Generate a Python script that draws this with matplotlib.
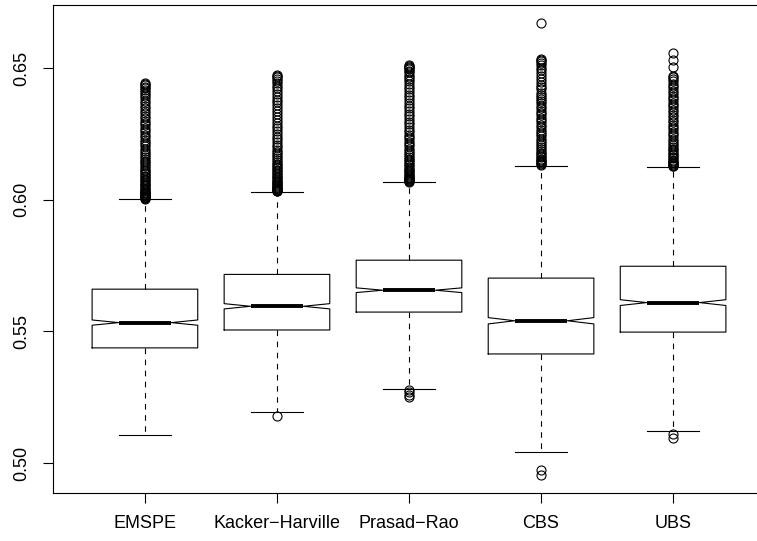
import matplotlib
matplotlib.use("Agg")
import matplotlib.pyplot as plt

plt.rcParams['font.family'] = ['Liberation Sans', 'DejaVu Sans']

labels = ["EMSPE", "Kacker\u2212Harville", "Prasad\u2212Rao", "CBS", "UBS"]

# five-number summaries
q1 = [0.5437, 0.5505, 0.5573, 0.5414, 0.5497]
med = [0.5533, 0.5595, 0.5656, 0.5540, 0.5609]
q3 = [0.5660, 0.5716, 0.5770, 0.5702, 0.5747]
whis_lo = [0.5107, 0.5195, 0.5282, 0.5043, 0.5120]
whis_hi = [0.6001, 0.6030, 0.6066, 0.6128, 0.6122]
notch_half = [0.0010, 0.0010, 0.0009, 0.0012, 0.0011]

# outlying values
out_emspe = [0.6003, 0.6005, 0.6007, 0.6009, 0.6011, 0.6013, 0.6015, 0.6018,
             0.6021, 0.6024, 0.6027, 0.6030, 0.6034, 0.6038, 0.6042, 0.6046,
             0.6050, 0.6055, 0.6060, 0.6064, 0.6069, 0.6074, 0.6080, 0.6085,
             0.6091, 0.6096, 0.6102, 0.6108, 0.6114, 0.6121, 0.6127, 0.6134,
             0.6141, 0.6148, 0.6155, 0.6163, 0.6170, 0.6178, 0.6186, 0.6194,
             0.6203, 0.6211, 0.6219, 0.6228, 0.6237, 0.6246, 0.6255, 0.6264,
             0.6273, 0.6282, 0.6291, 0.6300, 0.6310, 0.6319, 0.6328, 0.6338,
             0.6347, 0.6356, 0.6366, 0.6375, 0.6384, 0.6393, 0.6401, 0.6409,
             0.6416, 0.6423, 0.6429, 0.6434, 0.6438, 0.6441]
out_kh = [0.5180,
          0.6032, 0.6034, 0.6036, 0.6038, 0.6040, 0.6043, 0.6046, 0.6049,
          0.6052, 0.6055, 0.6059, 0.6063, 0.6067, 0.6071, 0.6076, 0.6081,
          0.6086, 0.6091, 0.6096, 0.6102, 0.6108, 0.6113, 0.6119, 0.6125,
          0.6131, 0.6137, 0.6143, 0.6150, 0.6157, 0.6164, 0.6172, 0.6181,
          0.6190, 0.6199, 0.6209, 0.6219, 0.6229, 0.6239, 0.6250, 0.6260,
          0.6271, 0.6281, 0.6292, 0.6303, 0.6314, 0.6325, 0.6336, 0.6347,
          0.6358, 0.6369, 0.6380, 0.6391, 0.6402, 0.6412, 0.6422, 0.6432,
          0.6441, 0.6450, 0.6458, 0.6465, 0.6471, 0.6475]
out_pr = [0.5277, 0.5269, 0.5260, 0.5251,
          0.6068, 0.6070, 0.6072, 0.6074, 0.6077, 0.6080, 0.6083, 0.6086,
          0.6090, 0.6094, 0.6098, 0.6103, 0.6108, 0.6113, 0.6118, 0.6124,
          0.6130, 0.6136, 0.6142, 0.6149, 0.6156, 0.6163, 0.6170, 0.6178,
          0.6186, 0.6194, 0.6202, 0.6211, 0.6220, 0.6229, 0.6238, 0.6247,
          0.6256, 0.6266, 0.6276, 0.6286, 0.6296, 0.6306, 0.6316, 0.6326,
          0.6336, 0.6346, 0.6357, 0.6367, 0.6377, 0.6388, 0.6398, 0.6409,
          0.6419, 0.6429, 0.6439, 0.6449, 0.6458, 0.6467, 0.6475, 0.6483,
          0.6490, 0.6496, 0.6501, 0.6505, 0.6508, 0.6511]
out_cbs = [0.4975, 0.4955,
           0.6132, 0.6135, 0.6138, 0.6142, 0.6146, 0.6150, 0.6155, 0.6160,
           0.6166, 0.6172, 0.6178, 0.6185, 0.6192, 0.6199, 0.6207, 0.6215,
           0.6223, 0.6231, 0.6240, 0.6248, 0.6257, 0.6266, 0.6275, 0.6284,
           0.6293, 0.6302, 0.6311, 0.6320, 0.6329, 0.6338, 0.6347, 0.6356,
           0.6365, 0.6373, 0.6381, 0.6389, 0.6396, 0.6403, 0.6419, 0.6428,
           0.6437, 0.6447, 0.6458, 0.6469, 0.6480, 0.6491, 0.6501, 0.6510,
           0.6518, 0.6525, 0.6531, 0.6535, 0.6671]
out_ubs = [0.5110, 0.5094,
           0.6126, 0.6129, 0.6132, 0.6135, 0.6139, 0.6143, 0.6147, 0.6152,
           0.6157, 0.6162, 0.6168, 0.6174, 0.6180, 0.6187, 0.6194, 0.6201,
           0.6208, 0.6216, 0.6224, 0.6232, 0.6240, 0.6249, 0.6258, 0.6267,
           0.6276, 0.6285, 0.6294, 0.6303, 0.6313, 0.6322, 0.6331, 0.6341,
           0.6350, 0.6359, 0.6368, 0.6377, 0.6386, 0.6395, 0.6404, 0.6413,
           0.6422, 0.6431, 0.6440, 0.6449, 0.6457, 0.6464, 0.6470, 0.6502,
           0.6530, 0.6558]
outliers = [out_emspe, out_kh, out_pr, out_cbs, out_ubs]

stats = []
for i in range(len(labels)):
    stats.append(dict(med=med[i], q1=q1[i], q3=q3[i],
                      whislo=whis_lo[i], whishi=whis_hi[i],
                      cilo=med[i] - notch_half[i], cihi=med[i] + notch_half[i],
                      fliers=outliers[i]))

fig = plt.figure(figsize=(7.57, 5.41), dpi=100)
ax = fig.add_axes([52.5 / 757, 48 / 541, 713 / 757, 488 / 541])

lw = 0.8
ax.bxp(stats, positions=range(1, 6), widths=0.8, shownotches=True,
       boxprops=dict(color='black', linewidth=lw),
       medianprops=dict(color='black', linewidth=2.8, solid_capstyle='butt'),
       whiskerprops=dict(color='black', linewidth=lw, linestyle=(0, (5, 5))),
       capprops=dict(color='black', linewidth=lw),
       flierprops=dict(marker='o', markerfacecolor='none', markeredgecolor='black',
                       markersize=6.5, markeredgewidth=0.8, linestyle='none'))

ax.set_xlim(0.3, 5.7)
ax.set_ylim(0.4886, 0.6739)
ax.set_xticks(range(1, 6))
ax.set_xticklabels(labels)
ax.set_yticks([0.50, 0.55, 0.60, 0.65])
ax.set_yticklabels(["0.50", "0.55", "0.60", "0.65"], rotation=90, va='center')
ax.tick_params(axis='both', length=7, width=lw, labelsize=13, pad=9, direction='out')
for s in ax.spines.values():
    s.set_linewidth(lw)

fig.savefig("out.png", dpi=100)
